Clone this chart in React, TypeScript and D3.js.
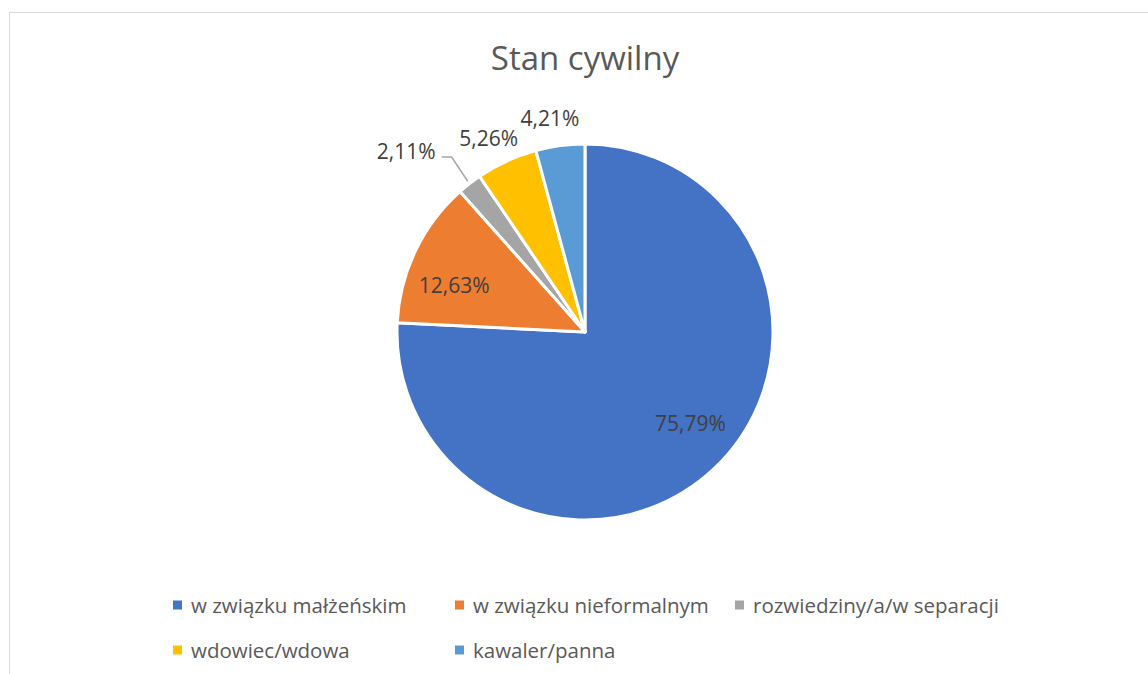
import React from 'react';
import * as d3 from 'd3';

const categories = [
  'w związku małżeńskim',
  'w związku nieformalnym',
  'rozwiedziny/a/w separacji',
  'wdowiec/wdowa',
  'kawaler/panna'
];
const values = [75.79, 12.63, 2.11, 5.26, 4.21];
const colors = ['#4472C4', '#ED7D31', '#A5A5A5', '#FFC000', '#5B9BD5'];

const W = 1148;
const H = 674;
const FONT = '"Open Sans", sans-serif';

const fmt = (v: number) => v.toFixed(2).replace('.', ',') + '%';

const App: React.FC = () => {
  const cx = 585;
  const cy = 332;
  const radius = 188;

  const pie = d3.pie<number>().sort(null).value(d => d)(values);
  const arc = d3.arc<d3.PieArcDatum<number>>().innerRadius(0).outerRadius(radius);

  const polar = (r: number, a: number) => [r * Math.sin(a), -r * Math.cos(a)];

  // big slices get labels inside, small ones just outside, the tiny one a leader line
  const labels = pie.map(d => {
    const mid = (d.startAngle + d.endAngle) / 2;
    const share = d.value / 100;
    if (share > 0.1) {
      const [x, y] = polar(radius * 0.74, mid - 0.1);
      return { x, y, leader: null as null | string, anchor: 'middle' };
    }
    if (share < 0.03) {
      const [px, py] = polar(radius + 3, mid);
      const [kx, ky] = polar(radius + 32, mid + 0.01);
      const path = `M${px},${py}L${kx},${ky}L${kx - 10},${ky}`;
      return { x: kx - 16, y: ky - 6, leader: path, anchor: 'end' };
    }
    const [x, y] = polar(radius + 29, mid - 0.03);
    return { x, y, leader: null, anchor: 'middle' };
  });

  const legendX = [173, 455, 735];
  const legendRowY = [605, 650];

  return (
    <svg width={W} height={H} style={{ position: 'absolute', left: 0, top: 0, display: 'block', background: '#fff' }}>
      <rect x={9.5} y={12.5} width={W + 10} height={H + 10} fill="#fff" stroke="#d9d9d9" strokeWidth={1} />
      <text x={cx} y={70} textAnchor="middle" fontFamily={FONT} fontSize={33} fill="#595959">
        Stan cywilny
      </text>
      <g transform={`translate(${cx},${cy})`}>
        {pie.map((d, i) => (
          <path key={i} d={arc(d) || ''} fill={colors[i]} stroke="#fff" strokeWidth={3} strokeLinejoin="round" />
        ))}
        {labels.map((l, i) => (
          <g key={i}>
            {l.leader && <path d={l.leader} fill="none" stroke="#a6a6a6" strokeWidth={1.5} />}
            <text x={l.x} y={l.y} textAnchor={l.anchor} dominantBaseline="central" fontFamily={FONT} fontSize={21} fill="#404040">
              {fmt(values[i])}
            </text>
          </g>
        ))}
      </g>
      <g fontFamily={FONT} fontSize={20.5} fill="#595959">
        {categories.map((c, i) => {
          const row = i < 3 ? 0 : 1;
          const col = i < 3 ? i : i - 3;
          const x = legendX[col];
          const y = legendRowY[row];
          return (
            <g key={c}>
              <rect x={x} y={y - 4.5} width={9} height={9} fill={colors[i]} />
              <text x={x + 18} y={y} dominantBaseline="central">{c}</text>
            </g>
          );
        })}
      </g>
    </svg>
  );
};

export default App;
